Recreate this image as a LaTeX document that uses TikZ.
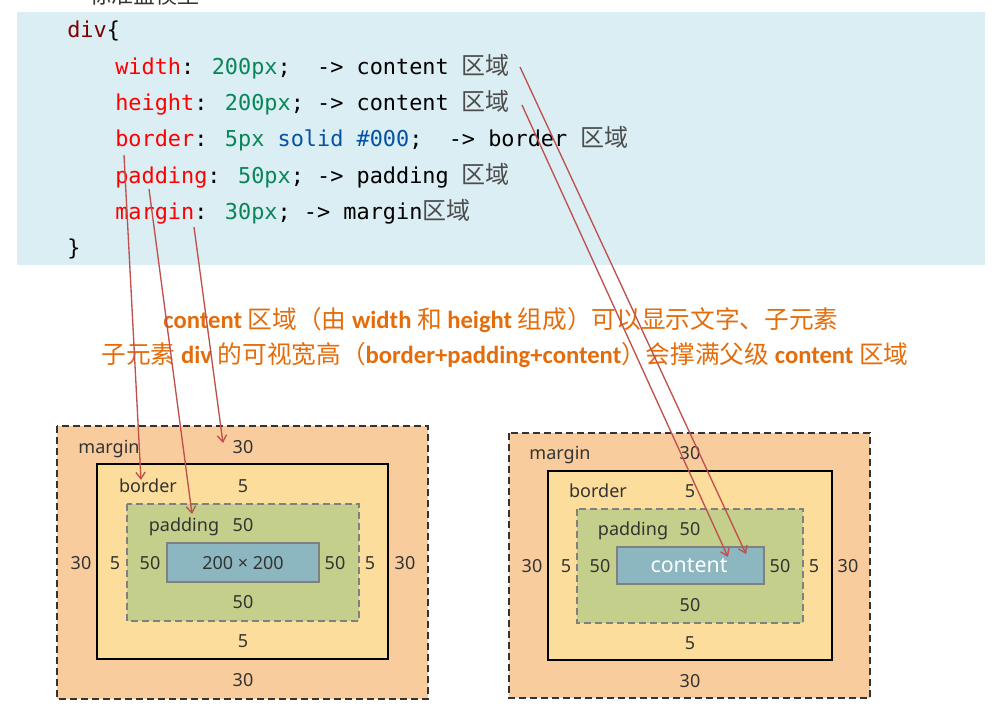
\documentclass[tikz,border=0pt]{standalone}
\usepackage{fontspec}
\usepackage{xcolor}
\usetikzlibrary{arrows.meta}
\setmainfont{Noto Sans}
\newfontfamily\codefont{DejaVu Sans Mono}
\newfontfamily\cjk{Noto Sans CJK SC}
\newfontfamily\califont{Carlito}

\definecolor{codebg}{HTML}{DAEEF3}
\definecolor{csstag}{HTML}{800000}
\definecolor{cssprop}{HTML}{FF0000}
\definecolor{cssval}{HTML}{098658}
\definecolor{csskey}{HTML}{0451A5}
\definecolor{notecol}{HTML}{E46C0A}
\definecolor{linkcol}{HTML}{C0504D}
\definecolor{marginc}{HTML}{F9CC9D}
\definecolor{borderc}{HTML}{FDDD9B}
\definecolor{paddingc}{HTML}{C3CF8A}
\definecolor{contentc}{HTML}{8CB6C0}
\definecolor{labelc}{HTML}{333333}

\newcommand\prop[1]{\textcolor{cssprop}{#1}}
\newcommand\val[1]{\textcolor{cssval}{#1}}
\newcommand\zone{{\cjk\fontsize{18}{20}\selectfont\textcolor{black!70}{区域}}}
\newcommand\zh[1]{{\cjk\mdseries #1}}

\begin{document}
\begin{tikzpicture}[
  x=0.75pt, y=-0.75pt,
  codeline/.style={anchor=base west, inner sep=0pt, font=\codefont\fontsize{16.4}{20}\selectfont},
  note/.style={anchor=base, inner sep=0pt, text=notecol, font=\califont\bfseries\fontsize{18.5}{22}\selectfont},
  lbl/.style={anchor=base, inner sep=0pt, text=labelc, font=\fontsize{13.5}{16}\selectfont},
  marginbox/.style={draw=black!80, fill=marginc, line width=1.8pt, dash pattern=on 5.25pt off 3pt},
  borderbox/.style={draw=black, fill=borderc, line width=1.9pt},
  paddingbox/.style={draw=black!50, fill=paddingc, line width=1.6pt, dash pattern=on 5.25pt off 3pt},
  contentbox/.style={draw=black!50, fill=contentc, line width=1.8pt},
  link/.style={draw=linkcol, line width=1pt, -{Straight Barb[length=5pt,width=7pt]}}
]
\useasboundingbox (0,0) rectangle (1006,726);

% title, cut off at the top
\begin{scope}
  \clip (0,0) rectangle (1006,12);
  \node[anchor=base, inner sep=0pt, font=\cjk\fontsize{16.5}{20}\selectfont, text=black!80] (title) at (144,3) {标准盒模型};
\end{scope}

% code
\fill[codebg] (17,12) rectangle (985,265);
\node[codeline] (ldiv) at (67,37) {\textcolor{csstag}{div}\{};
\node[codeline] (lwidth) at (115,74) {\prop{width}: \val{200px};~ -> content \zone};
\node[codeline] (lheight) at (115,110) {\prop{height}: \val{200px}; -> content \zone};
\node[codeline] (lborder) at (115,146) {\prop{border}: \val{5px} \textcolor{csskey}{solid \#000};~ -> border \zone};
\node[codeline] (lpadding) at (115,183) {\prop{padding}: \val{50px}; -> padding \zone};
\node[codeline] (lmargin) at (115,219) {\prop{margin}: \val{30px}; -> margin\zone};
\node[codeline] (lclose) at (67,255) {\}};

% notes
\node[note] (note1) at (501,328) {content \zh{区域（由} width \zh{和} height \zh{组成）可以显示文字、子元素}};
\node[note] (note2) at (505,363) {\zh{子元素} div \zh{的可视宽高（}border+padding+content\zh{）会撑满父级} content \zh{区域}};

% left box model
\draw[marginbox] (57,426) rectangle (428,699);
\draw[borderbox] (97,464) rectangle (388,659);
\draw[paddingbox] (127,504) rectangle (359,621);
\draw[contentbox] (167,543) rectangle (319,582);
\node[lbl] (lm) at (109,453) {margin};
\node[lbl] (lmt) at (243,453) {30};
\node[lbl] (lb) at (148,492) {border};
\node[lbl] (lbt) at (243,492) {5};
\node[lbl] (lp) at (184,531) {padding};
\node[lbl] (lpt) at (243,531) {50};
\node[lbl] (lc) at (243,569) {200 × 200};
\foreach \x/\t in {81/30, 115/5, 150/50, 335/50, 370/5, 405/30}
  \node[lbl] at (\x,569) {\t};
\foreach \y/\t in {608/50, 647/5, 686/30}
  \node[lbl] at (243,\y) {\t};

% right box model
\draw[marginbox] (509,433) rectangle (870,698);
\draw[borderbox] (548,471) rectangle (832,660);
\draw[paddingbox] (577,509) rectangle (803,623);
\draw[contentbox] (617,547) rectangle (764,584);
\node[lbl] (rm) at (560,459) {margin};
\node[lbl] (rmt) at (690,459) {30};
\node[lbl] (rb) at (598,497) {border};
\node[lbl] (rbt) at (690,497) {5};
\node[lbl] (rp) at (633,535) {padding};
\node[lbl] (rpt) at (690,535) {50};
\node[lbl, text=white, font=\fontsize{16}{18}\selectfont] (rc) at (689,572) {content};
\foreach \x/\t in {532/30, 566/5, 600/50, 780/50, 814/5, 848/30}
  \node[lbl] at (\x,572) {\t};
\foreach \y/\t in {611/50, 649/5, 687/30}
  \node[lbl] at (690,\y) {\t};

% links from code to boxes
\coordinate (sborder) at (124,155);
\coordinate (spadding) at (149,189);
\coordinate (smargin) at (194,227);
\coordinate (swidth) at (520,67);
\coordinate (sheight) at (522,105);
\coordinate (eborder) at (141,480);
\coordinate (epadding) at (192,514);
\coordinate (emargin) at (223,443);
\coordinate (ewidth) at (746,554);
\coordinate (eheight) at (728,557);
\draw[link] (sborder) -- (eborder);
\draw[link] (spadding) -- (epadding);
\draw[link] (smargin) -- (emargin);
\draw[link] (swidth) -- (ewidth);
\draw[link] (sheight) -- (eheight);
\end{tikzpicture}
\end{document}
